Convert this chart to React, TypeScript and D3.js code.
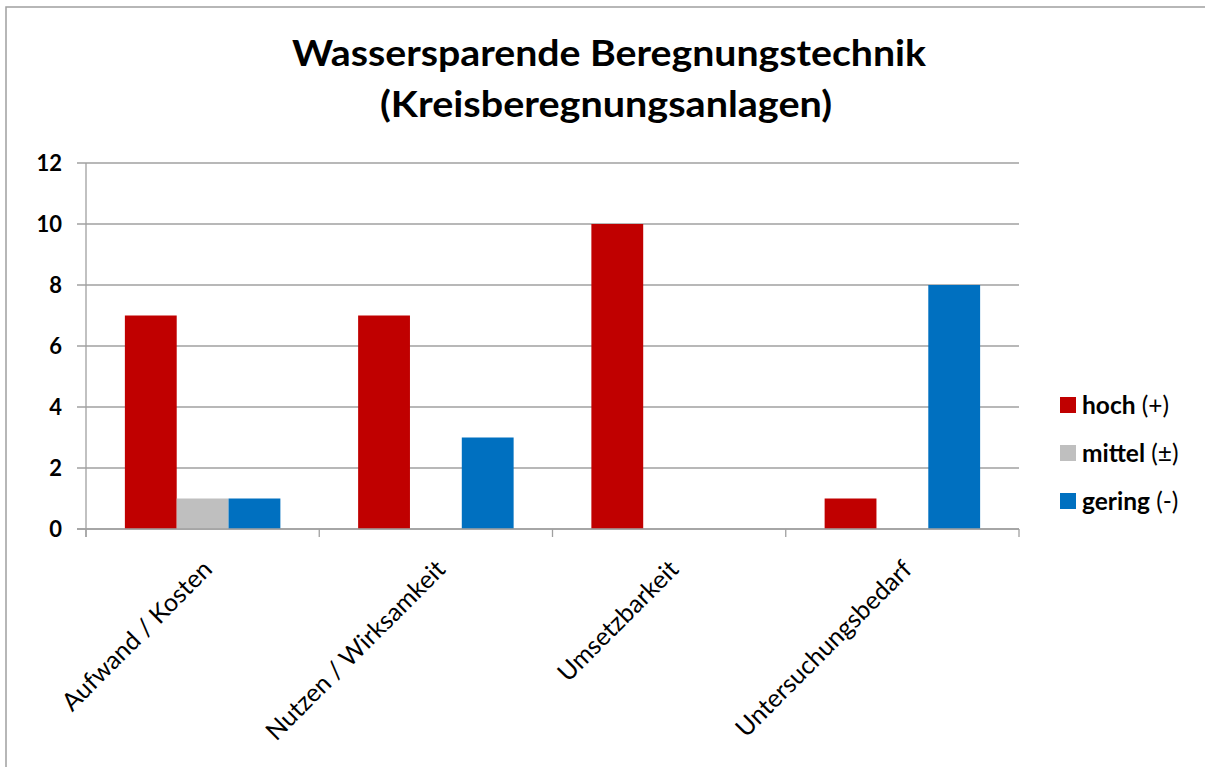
import React, { useEffect } from "react";
import * as d3 from "d3";

const categories = ["Aufwand / Kosten", "Nutzen / Wirksamkeit", "Umsetzbarkeit", "Untersuchungsbedarf"];
const seriesNames = ["hoch", "mittel", "gering"];
const seriesSuffix = ["(+)", "(±)", "(-)"];
const hoch = [7, 7, 10, 1];
const mittel = [1, 0, 0, 0];
const gering = [1, 3, 0, 8];
const yTicks = [0, 2, 4, 6, 8, 10, 12];
const titleLines = ["Wassersparende Beregnungstechnik", "(Kreisberegnungsanlagen)"];

const colors = ["#C00000", "#BFBFBF", "#0070C0"];
const FONT = "Lato, 'Open Sans', sans-serif";

export default function App() {
  useEffect(() => {
    document.body.style.margin = "0";
  }, []);

  const W = 1205;
  const H = 767;
  const plotLeft = 86;
  const plotRight = 1019;
  const plotTop = 163;
  const plotBottom = 529;

  const x = d3.scaleBand<string>().domain(categories).range([plotLeft, plotRight]).paddingInner(0).paddingOuter(0);
  const xs = d3.scaleBand<string>().domain(seriesNames).range([0, x.bandwidth()]).paddingInner(0).paddingOuter(0.75);
  const y = d3.scaleLinear().domain([0, 12]).range([plotBottom, plotTop]);

  const series = [hoch, mittel, gering];
  const grid = "#A0A0A0";
  const titleWidths = [634, 452];
  const titleCenters = [609, 606];

  const boundaries = categories.map((c) => x(c) as number).concat([plotRight]);

  return (
    <svg width={W} height={H} style={{ display: "block", background: "#fff" }}>
      <rect x={6} y={7} width={1240} height={800} fill="#fff" stroke="#A0A0A0" strokeWidth={1.5} />
      {titleLines.map((t, i) => (
        <text
          key={i}
          x={titleCenters[i]}
          y={66 + i * 51}
          textAnchor="middle"
          fontFamily={FONT}
          fontWeight={700}
          fontSize={37}
          fill="#000"
          textLength={titleWidths[i]}
          lengthAdjust="spacingAndGlyphs"
        >
          {t}
        </text>
      ))}
      {yTicks.map((t) => (
        <g key={t}>
          <line x1={77} x2={plotRight} y1={y(t)} y2={y(t)} stroke={grid} strokeWidth={1.3} />
          <text x={62} y={y(t)} dy="0.36em" textAnchor="end" fontFamily={FONT} fontWeight={700} fontSize={22} fill="#000">
            {t}
          </text>
        </g>
      ))}
      <line x1={plotLeft} x2={plotLeft} y1={plotTop} y2={plotBottom + 8} stroke={grid} strokeWidth={1.3} />
      {boundaries.map((b, i) => (
        <line key={i} x1={b} x2={b} y1={plotBottom} y2={plotBottom + 8} stroke={grid} strokeWidth={1.3} />
      ))}
      {categories.map((c, ci) =>
        series.map((s, si) =>
          s[ci] > 0 ? (
            <rect
              key={c + si}
              x={(x(c) as number) + (xs(seriesNames[si]) as number)}
              y={y(s[ci])}
              width={xs.bandwidth()}
              height={y(0) - y(s[ci])}
              fill={colors[si]}
            />
          ) : null
        )
      )}
      <line x1={77} x2={plotRight} y1={plotBottom} y2={plotBottom} stroke={grid} strokeWidth={1.3} />
      {categories.map((c) => {
        const cx = (x(c) as number) + x.bandwidth() / 2;
        return (
          <text
            key={c}
            transform={`translate(${cx + 11},${plotBottom + 42}) rotate(-45)`}
            textAnchor="end"
            fontFamily={FONT}
            fontSize={25}
            fill="#000"
          >
            {c}
          </text>
        );
      })}
      {seriesNames.map((n, i) => {
        const cy = 405 + i * 48;
        return (
          <g key={n}>
            <rect x={1060} y={cy - 8} width={16} height={16} fill={colors[i]} />
            <text x={1082} y={cy} dy="0.36em" fontFamily={FONT} fontSize={24.5} fill="#000">
              <tspan fontWeight={700}>{n}</tspan>
              <tspan> {seriesSuffix[i]}</tspan>
            </text>
          </g>
        );
      })}
    </svg>
  );
}
